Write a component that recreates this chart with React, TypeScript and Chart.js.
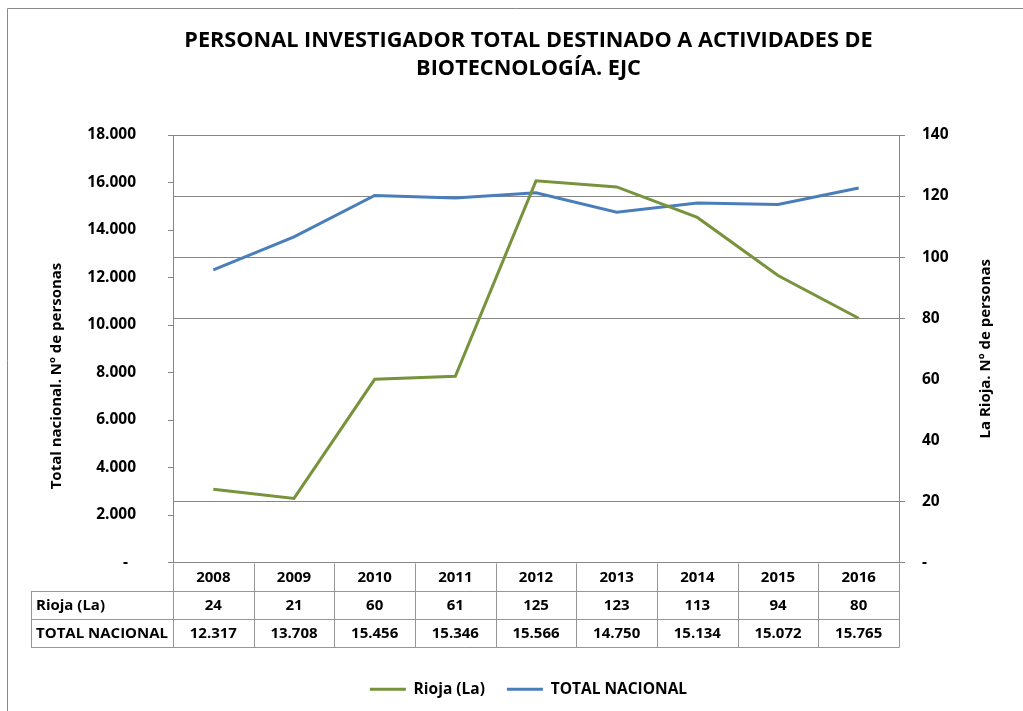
import React, { useEffect, useRef } from 'react';
import { Chart, registerables } from 'chart.js';

Chart.register(...registerables);

const years = ['2008', '2009', '2010', '2011', '2012', '2013', '2014', '2015', '2016'];
const rioja = [24, 21, 60, 61, 125, 123, 113, 94, 80];
const totalNacional = [12317, 13708, 15456, 15346, 15566, 14750, 15134, 15072, 15765];
const seriesNames = ['Rioja (La)', 'TOTAL NACIONAL'];
const seriesColors = ['#77933C', '#4A7EBB'];
const titleLines = ['PERSONAL INVESTIGADOR TOTAL DESTINADO A ACTIVIDADES DE', 'BIOTECNOLOGÍA. EJC'];
const leftAxisTitle = 'Total nacional. Nº de personas';
const rightAxisTitle = 'La Rioja. Nº de personas';
const leftAxisMax = 18000;
const leftAxisStep = 2000;
const rightAxisMax = 140;
const rightAxisStep = 20;
const hiddenRightGrid = [40, 60];

const FONT = "'Open Sans', sans-serif";
const GRID = '#868686';
const TABLE_LINE = '#969696';

function fmt(n: number): string {
  const s = Math.round(n).toString();
  return s.replace(/\B(?=(\d{3})+(?!\d))/g, '.');
}

const framePlugin = {
  id: 'frame',
  beforeDraw(chart: any) {
    const ctx = chart.ctx;
    ctx.save();
    ctx.fillStyle = '#ffffff';
    ctx.fillRect(0, 0, chart.width, chart.height);
    ctx.strokeStyle = '#8a8a8a';
    ctx.lineWidth = 1;
    ctx.beginPath();
    ctx.moveTo(7.5, chart.height + 5);
    ctx.lineTo(7.5, 8.5);
    ctx.lineTo(chart.width + 5, 8.5);
    ctx.stroke();
    ctx.restore();
  },
};

const tablePlugin = {
  id: 'dataTable',
  afterDraw(chart: any) {
    const ctx = chart.ctx;
    const x = chart.scales.x;
    const area = chart.chartArea;
    const n = years.length;
    const colW = (x.right - x.left) / n;
    const rowH = 28;
    const top = area.bottom;
    const labelLeft = 31;
    const px = (v: number) => Math.round(v) + 0.5;

    ctx.save();
    ctx.strokeStyle = TABLE_LINE;
    ctx.lineWidth = 1;
    ctx.beginPath();
    for (let r = 1; r <= 3; r++) {
      const y = px(top + r * rowH);
      ctx.moveTo(labelLeft, y);
      ctx.lineTo(x.right + 0.5, y);
    }
    for (let i = 0; i <= n; i++) {
      const xx = px(x.left + i * colW);
      ctx.moveTo(xx, px(top));
      ctx.lineTo(xx, px(top + 3 * rowH));
    }
    ctx.moveTo(px(labelLeft), px(top + rowH));
    ctx.lineTo(px(labelLeft), px(top + 3 * rowH));
    ctx.stroke();

    ctx.fillStyle = '#000';
    ctx.font = `bold 15px ${FONT}`;
    ctx.textBaseline = 'middle';
    ctx.textAlign = 'center';
    for (let i = 0; i < n; i++) {
      const cx = x.getPixelForValue(i);
      ctx.fillText(years[i], cx, top + rowH * 0.5 + 1);
      ctx.fillText(String(rioja[i]), cx, top + rowH * 1.5 + 1);
      ctx.fillText(fmt(totalNacional[i]), cx, top + rowH * 2.5 + 1);
    }
    ctx.textAlign = 'left';
    ctx.fillText(seriesNames[0], labelLeft + 5, top + rowH * 1.5 + 1);
    ctx.fillText(seriesNames[1], labelLeft + 5, top + rowH * 2.5 + 1);

    ctx.font = `bold 15px ${FONT}`;
    ctx.textAlign = 'center';
    ctx.save();
    ctx.translate(57, 376);
    ctx.rotate(-Math.PI / 2);
    ctx.fillText(leftAxisTitle, 0, 0);
    ctx.restore();
    ctx.save();
    ctx.translate(986, (area.top + area.bottom) / 2);
    ctx.rotate(-Math.PI / 2);
    ctx.fillText(rightAxisTitle, 0, 0);
    ctx.restore();
    ctx.restore();
  },
};

export default function App() {
  const canvasRef = useRef<HTMLCanvasElement | null>(null);

  useEffect(() => {
    document.body.style.margin = '0';
    const canvas = canvasRef.current;
    if (!canvas) return;
    const chart = new Chart(canvas, {
      type: 'line',
      data: {
        labels: years,
        datasets: [
          {
            label: seriesNames[0],
            data: rioja,
            yAxisID: 'y1',
            borderColor: seriesColors[0],
            backgroundColor: seriesColors[0],
            borderWidth: 3,
            pointRadius: 0,
            tension: 0,
          },
          {
            label: seriesNames[1],
            data: totalNacional,
            yAxisID: 'y',
            borderColor: seriesColors[1],
            backgroundColor: seriesColors[1],
            borderWidth: 3,
            pointRadius: 0,
            tension: 0,
          },
        ],
      },
      options: {
        responsive: false,
        animation: false,
        devicePixelRatio: 1,
        layout: { padding: { left: 34, right: 0, top: 0, bottom: 4 } },
        plugins: {
          tooltip: { enabled: false },
          title: {
            display: true,
            text: titleLines,
            color: '#000',
            font: { family: FONT, size: 21.7, weight: 'bold', lineHeight: '28px' },
            padding: { top: 27, bottom: 52 },
          },
          legend: {
            display: true,
            position: 'bottom',
            labels: {
              color: '#000',
              font: { family: FONT, size: 15.5, weight: 'bold' },
              usePointStyle: true,
              pointStyle: 'line',
              pointStyleWidth: 36,
              boxHeight: 16,
              padding: 22,
            },
          },
        },
        scales: {
          x: {
            type: 'category',
            offset: true,
            grid: { display: false },
            ticks: { display: false },
            border: { display: true, color: GRID },
            afterFit: (s: any) => {
              s.height = 97;
            },
          },
          y: {
            type: 'linear',
            position: 'left',
            min: 0,
            max: leftAxisMax,
            ticks: {
              stepSize: leftAxisStep,
              color: '#000',
              font: { family: FONT, size: 15.5, weight: 'bold' },
              padding: 32,
              callback: (v: any) => (Number(v) === 0 ? '-  ' : fmt(Number(v))),
            },
            grid: { drawOnChartArea: false, drawTicks: true, tickLength: 5, color: GRID },
            border: { display: true, color: GRID },
            afterFit: (s: any) => {
              s.width = 139;
            },
          },
          y1: {
            type: 'linear',
            position: 'right',
            min: 0,
            max: rightAxisMax,
            ticks: {
              stepSize: rightAxisStep,
              color: '#000',
              font: { family: FONT, size: 15.5, weight: 'bold' },
              padding: 17,
              callback: (v: any) => (Number(v) === 0 ? '-' : String(v)),
            },
            grid: {
              drawOnChartArea: true,
              drawTicks: true,
              tickLength: 6,
              color: (c: any) => (c.tick && hiddenRightGrid.includes(c.tick.value) ? 'rgba(0,0,0,0)' : GRID),
              tickColor: (c: any) => (c.tick && hiddenRightGrid.includes(c.tick.value) ? 'rgba(0,0,0,0)' : GRID),
            },
            border: { display: true, color: GRID },
            afterFit: (s: any) => {
              s.width = 124;
            },
          },
        },
      },
      plugins: [framePlugin, tablePlugin],
    } as any);
    return () => chart.destroy();
  }, []);

  return (
    <div style={{ position: 'fixed', left: 0, top: 0, width: 1023, height: 711, background: '#fff' }}>
      <canvas ref={canvasRef} width={1023} height={711} style={{ display: 'block' }} />
    </div>
  );
}
